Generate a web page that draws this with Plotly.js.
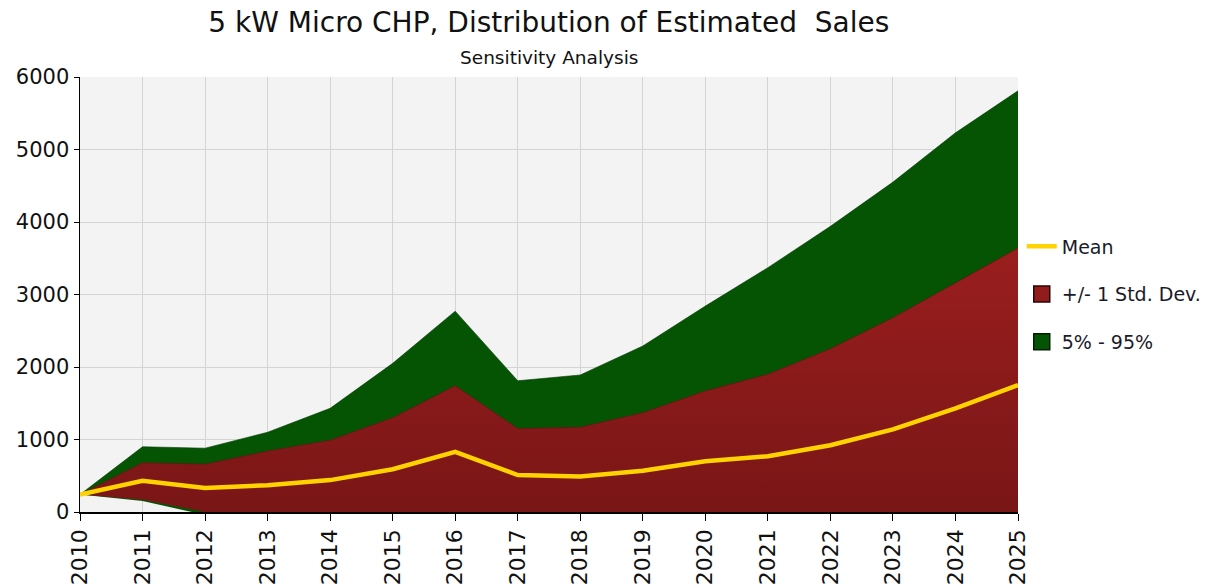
<!DOCTYPE html>
<html>
<head>
<meta charset="utf-8">
<script src="https://cdn.plot.ly/plotly-3.0.1.min.js"></script>
<style>html,body{margin:0;padding:0;background:#fff;}#chart{width:1225px;height:588px;}</style>
</head>
<body>
<div id="chart"></div>
<script>
const years = [2010,2011,2012,2013,2014,2015,2016,2017,2018,2019,2020,2021,2022,2023,2024,2025];
const meanSales = [240,430,330,370,440,590,830,510,490,570,700,770,920,1140,1430,1750];
const sdUpper = [240,680,660,840,990,1300,1740,1150,1170,1370,1670,1900,2250,2680,3160,3640];
const sdLower = [240,170,0,-100,-110,-120,-80,-130,-190,-230,-270,-360,-410,-400,-300,-140];
const p95 = [240,900,880,1100,1430,2050,2770,1810,1890,2290,2840,3370,3940,4550,5230,5810];
const p5 = [240,150,-40,-200,-250,-300,-300,-300,-300,-300,-300,-400,-500,-500,-500,-500];
const tickVals = [0,1000,2000,3000,4000,5000,6000];
const tickText = ['0','1000','2000','3000','4000','5000','6000'];

const FONT = '"DejaVu Sans", sans-serif';
const GREEN = '#045404';
const RED = '#8e1a1a';

const traces = [
  {x: years, y: p5, type:'scatter', mode:'lines', line:{width:0, color:GREEN}, showlegend:false, hoverinfo:'skip'},
  {x: years, y: p95, type:'scatter', mode:'lines', name:'5% - 95%', fill:'tonexty', fillcolor:GREEN,
   line:{width:0.6, color:'#033a03'}, showlegend:false},
  {x: years, y: sdLower, type:'scatter', mode:'lines', line:{width:0, color:RED}, showlegend:false, hoverinfo:'skip'},
  {x: years, y: sdUpper, type:'scatter', mode:'lines', name:'+/- 1 Std. Dev.', fill:'tonexty', fillcolor:RED,
   fillgradient:{type:'vertical', colorscale:[[0,'#761515'],[1,'#9a1e1e']]},
   line:{width:0.6, color:'#6a1010'}, showlegend:false},
  {x: years, y: meanSales, type:'scatter', mode:'lines', name:'Mean', line:{width:4.5, color:'#ffd200'}, legendrank:1, legendgroup:'a'},
  {x: [null], y: [null], type:'scatter', mode:'markers', name:'+/- 1 Std. Dev.',
   marker:{symbol:'square', size:17, color:'#921c1c', line:{width:1.5, color:'#2a0505'}}, legendrank:2, legendgroup:'b'},
  {x: [null], y: [null], type:'scatter', mode:'markers', name:'5% - 95%',
   marker:{symbol:'square', size:17, color:'#045404', line:{width:1.5, color:'#021f02'}}, legendrank:3, legendgroup:'c'}
];

const layout = {
  width:1225, height:588,
  margin:{l:80, r:207, t:77, b:76},
  paper_bgcolor:'#ffffff',
  plot_bgcolor:'#f3f3f3',
  font:{family:FONT, color:'#1a1a2a'},
  title:{text:'5 kW Micro CHP, Distribution of Estimated  Sales', x:0.448, xanchor:'center', y:0.962, yanchor:'middle',
         font:{size:28, family:FONT, color:'#111'}},
  annotations:[{text:'Sensitivity Analysis', xref:'paper', yref:'paper', x:0.5, y:1, yshift:20, xanchor:'center', yanchor:'middle',
    showarrow:false, font:{size:18.5, family:FONT, color:'#111'}}],
  xaxis:{range:[2010,2025], tickmode:'array', tickvals:years, ticktext:years.map(String), tickangle:-90,
         showgrid:true, gridcolor:'#d4d4d4', gridwidth:1, showline:true, linecolor:'#000', linewidth:1.5,
         ticks:'outside', ticklen:7, tickcolor:'#000', tickfont:{size:22, family:FONT, color:'#111'}, zeroline:false, fixedrange:true},
  yaxis:{range:[0,6000], tickmode:'array', tickvals:tickVals, ticktext:tickText,
         showgrid:true, gridcolor:'#d4d4d4', gridwidth:1, showline:true, linecolor:'#000', linewidth:1.5,
         ticks:'outside', ticklen:5, tickcolor:'#000', tickfont:{size:21, family:FONT, color:'#111'}, zeroline:false, fixedrange:true},
  showlegend:true,
  legend:{x:1.004, xanchor:'left', y:0.654, yanchor:'top', traceorder:'grouped', tracegroupgap:20,
          font:{size:19, family:FONT, color:'#1a1a2a'}, bgcolor:'rgba(0,0,0,0)', itemwidth:30}
};

Plotly.newPlot('chart', traces, layout, {displayModeBar:false, staticPlot:true});
</script>
</body>
</html>
